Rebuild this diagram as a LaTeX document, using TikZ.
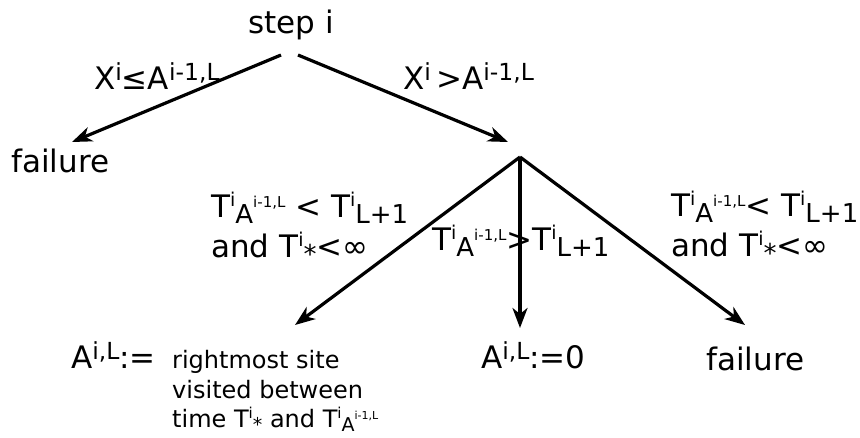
\documentclass[tikz,border=0pt]{standalone}
\usepackage{fontspec}
\setmainfont{DejaVu Sans}
\usetikzlibrary{arrows.meta}
% raised / lowered pieces of the formulas
\newcommand\hi[1]{\raisebox{9pt}{\fontsize{23.5}{23.5}\selectfont #1}}
\newcommand\ti[1]{\raisebox{11pt}{\fontsize{19}{19}\selectfont #1}}
\newcommand\lo[1]{\raisebox{-6pt}{\fontsize{26}{26}\selectfont #1}}
\newcommand\lohi[1]{\raisebox{10pt}{\fontsize{15}{15}\selectfont #1}}
\newcommand\sti[1]{\raisebox{9pt}{\fontsize{15}{15}\selectfont #1}}
\newcommand\tlo[1]{\raisebox{-4pt}{\fontsize{19}{19}\selectfont #1}}
\newcommand\tlohi[1]{\raisebox{8pt}{\fontsize{11}{11}\selectfont #1}}
\tikzset{
  txt/.style={inner sep=0pt, anchor=base west, font=\fontsize{31}{35}\selectfont},
  small/.style={inner sep=0pt, anchor=base west, font=\fontsize{24}{28}\selectfont},
  arr/.style={line width=3.2pt, -{Stealth[length=20pt,width=15pt,inset=6pt]}}
}
\begin{document}
\begin{tikzpicture}[x=1pt,y=-1pt]
\useasboundingbox (0,0) rectangle (860,437);
% top level
\node[txt, anchor=base] (step) at (291,33) {step i};
\coordinate (sl) at (281,55);
\coordinate (sr) at (298,55);
\coordinate (fl) at (72,142);
\coordinate (br) at (508,142);
\coordinate (b) at (520,157);
\node[txt] (fail1) at (11,172) {failure};
\node[txt] (c1) at (94,89) {X\hi{i}≤A\hi{i-1,L}};
\node[txt] (c2) at (403,89) {X\hi{i}\,>A\hi{i-1,L}};
\draw[arr] (sl) -- (fl);
\draw[arr] (sr) -- (br);
% second level
\coordinate (el) at (295,325);
\coordinate (em) at (520,328);
\coordinate (er) at (745,325);
\draw[arr] (b) -- (el);
\draw[arr] (b) -- (em);
\draw[arr] (b) -- (er);
\node[txt] (c3a) at (211,217) {T\ti{i}\lo{A}\lohi{i-1,L} < T\ti{i}\lo{L+1}};
\node[txt] (c3b) at (211,257) {and T\ti{i}\lo{*}<∞};
\node[txt] (c4) at (432,250) {T\ti{i}\lo{A}\lohi{i-1,L}>T\ti{i}\lo{L+1}};
\node[txt] (c5a) at (671,216) {T\ti{i}\lo{A}\lohi{i-1,L}< T\ti{i}\lo{L+1}};
\node[txt] (c5b) at (671,256) {and T\ti{i}\lo{*}<∞};
% leaves
\node[txt] (r1) at (71,368) {A\hi{i,L}:=};
\node[small] (r1t1) at (172,368) {rightmost site};
\node[small] (r1t2) at (172,398) {visited between};
\node[small] (r1t3) at (172,427) {time T\sti{i}\tlo{*} and T\sti{i}\tlo{A}\tlohi{i-1,L}};
\node[txt] (r2) at (481,368) {A\hi{i,L}:=0};
\node[txt] (fail2) at (706,370) {failure};
\end{tikzpicture}
\end{document}
